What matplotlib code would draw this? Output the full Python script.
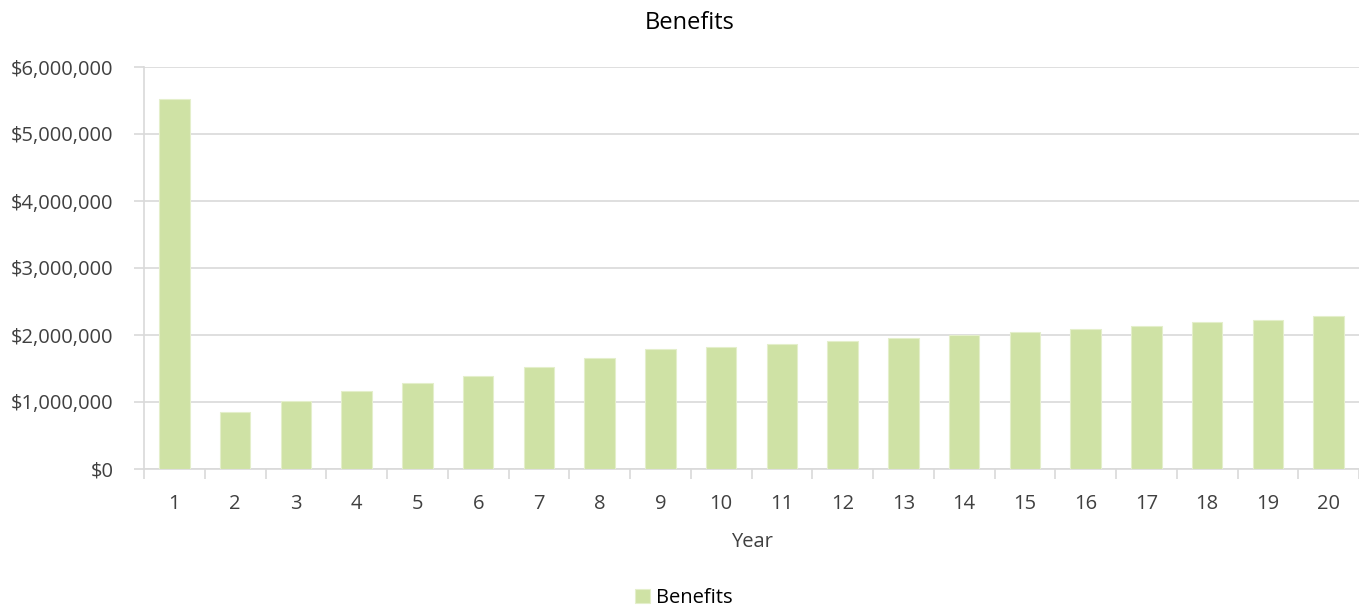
import matplotlib
matplotlib.use("Agg")
import matplotlib.pyplot as plt
from matplotlib.ticker import FuncFormatter, FixedLocator

years = [str(i) for i in range(1, 21)]
benefits = [5520000, 855000, 1020000, 1160000, 1280000, 1390000, 1520000, 1660000,
            1790000, 1820000, 1870000, 1910000, 1950000, 2000000, 2045000, 2090000,
            2140000, 2190000, 2230000, 2290000]
yticks = [0, 1000000, 2000000, 3000000, 4000000, 5000000, 6000000]

plt.rcParams['font.family'] = ['Open Sans', 'DejaVu Sans']

fig = plt.figure(figsize=(13.59, 6.11), dpi=100)
ax = fig.add_axes([144/1359, (611-469)/611, (1359-144)/1359, (469-67)/611])

x = list(range(len(years)))
ax.bar(x, benefits, width=0.5, color='#cfe2a5', edgecolor='#e4efcb', linewidth=0.8,
       label='Benefits', zorder=3)

ax.set_xlim(-0.5, len(years) - 0.5)
ax.set_ylim(0, 6000000)
ax.set_yticks(yticks)
ax.yaxis.set_major_formatter(FuncFormatter(lambda v, p: '${:,.0f}'.format(v)))
ax.grid(axis='y', color='#d9d9d9', linewidth=1.2, zorder=0)

ax.set_xticks(x)
ax.set_xticklabels(years)
ax.xaxis.set_minor_locator(FixedLocator([i + 0.5 for i in range(-1, len(years))]))
ax.tick_params(axis='x', which='major', length=0, pad=18, labelsize=14.5, labelcolor='#404040')
ax.tick_params(axis='x', which='minor', length=7, width=1.2, color='#d9d9d9')
ax.tick_params(axis='y', length=7, width=1.2, color='#d9d9d9', pad=15, labelsize=14.5,
               labelcolor='#404040')

for s in ['top', 'right']:
    ax.spines[s].set_visible(False)
for s in ['left', 'bottom']:
    ax.spines[s].set_color('#d9d9d9')
    ax.spines[s].set_linewidth(1.2)

ax.set_xlabel('Year', fontsize=14.5, color='#404040', labelpad=13)
fig.text(690/1359, 1 - 23/611, 'Benefits', ha='center', va='center', fontsize=17, color='#000000')

leg = fig.legend(loc='center', bbox_to_anchor=(684/1359, 1 - 598/611), frameon=False,
                 fontsize=14.5, handlelength=0.75, handleheight=0.75, handletextpad=0.3)
for t in leg.get_texts():
    t.set_color('#000000')

fig.savefig('out.png', dpi=100)
